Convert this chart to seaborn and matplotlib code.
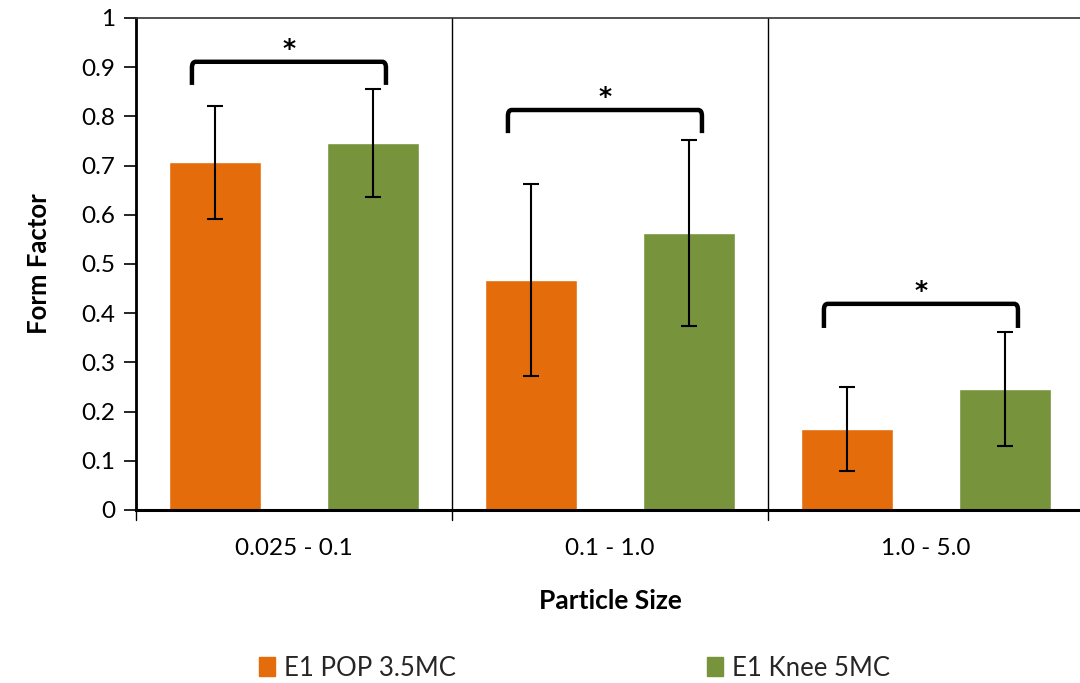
import matplotlib
matplotlib.use("Agg")
import matplotlib.pyplot as plt
from matplotlib.path import Path
from matplotlib.patches import PathPatch
import seaborn as sns
import pandas as pd

# Form factor by particle size range
categories = ["0.025 - 0.1", "0.1 - 1.0", "1.0 - 5.0"]
series_names = ["E1 POP 3.5MC", "E1 Knee 5MC"]
pop_values = [0.707, 0.467, 0.165]
knee_values = [0.746, 0.563, 0.246]
pop_errors = [0.115, 0.195, 0.086]
knee_errors = [0.109, 0.190, 0.116]
y_ticks = [0, 0.1, 0.2, 0.3, 0.4, 0.5, 0.6, 0.7, 0.8, 0.9, 1]
y_tick_labels = ["0", "0.1", "0.2", "0.3", "0.4", "0.5", "0.6", "0.7", "0.8", "0.9", "1"]
# significance brackets: (top of bracket, bottom of legs)
bracket_levels = [(0.911, 0.864), (0.813, 0.766), (0.419, 0.370)]
bracket_marks = ["*", "*", "*"]

colors = ["#E46C0A", "#77933C"]

df = pd.DataFrame({
    "size": categories * 2,
    "series": [series_names[0]] * 3 + [series_names[1]] * 3,
    "value": pop_values + knee_values,
})

sns.set_theme(style="white")
plt.rcParams["font.family"] = ["Lato", "DejaVu Sans"]

fig = plt.figure(figsize=(10.8, 6.83), dpi=100)
ax = fig.add_axes([136 / 1080, 1 - 510 / 683, 948 / 1080, 492 / 683])

sns.barplot(data=df, x="size", y="value", hue="series", hue_order=series_names,
            order=categories, palette=colors, width=1.0, gap=0.42,
            errorbar=None, saturation=1, ax=ax, legend=True)

# error bars at the centres of the drawn bars
bars = [p for p in ax.patches if p.get_height() > 0 and p.get_width() < 0.5]
pairs = sorted(((p.get_x() + p.get_width() / 2, p.get_height()) for p in bars),
               key=lambda t: t[0])
errs_ordered = []
for i in range(len(categories)):
    errs_ordered += [pop_errors[i], knee_errors[i]]
ax.errorbar([c for c, _ in pairs], [h for _, h in pairs], yerr=errs_ordered,
            fmt="none", ecolor="black", elinewidth=1.5, capsize=6, capthick=1.5,
            zorder=4)

# significance brackets with rounded corners
for i, ((top, low), mark) in enumerate(zip(bracket_levels, bracket_marks)):
    x0 = pairs[2 * i][0] - 0.073
    x1 = pairs[2 * i + 1][0] + 0.041
    r_x, r_y = 0.012, 0.012
    verts = [(x0, low), (x0, top - r_y), (x0, top), (x0 + r_x, top),
             (x1 - r_x, top), (x1, top), (x1, top - r_y), (x1, low)]
    codes = [Path.MOVETO, Path.LINETO, Path.CURVE3, Path.CURVE3,
             Path.LINETO, Path.CURVE3, Path.CURVE3, Path.LINETO]
    ax.add_patch(PathPatch(Path(verts, codes), fill=False, lw=3.2,
                           edgecolor="black", capstyle="butt", zorder=5))
    ax.text((x0 + x1) / 2, top + 0.002, mark, ha="center", va="bottom",
            fontsize=18, fontweight="bold", color="black",
            family="DejaVu Sans")

# axes styling
ax.set_xlim(-0.5, 2.5)
ax.set_ylim(0, 1)
ax.set_yticks(y_ticks)
ax.set_yticklabels(y_tick_labels)
ax.set_xticks([0, 1, 2])
ax.set_xticklabels(categories)
ax.tick_params(axis="x", length=0, labelsize=17.5, pad=20, colors="black")
ax.tick_params(axis="y", left=True, length=9, width=1.2, direction="out",
               labelsize=17.5, pad=6, colors="black")

# group separators extending below the axis
for xs in [-0.5, 0.5, 1.5, 2.5]:
    ax.plot([xs, xs], [-0.02, 1], color="black", lw=1.0, clip_on=False, zorder=1)

for side in ["left", "bottom", "top"]:
    ax.spines[side].set_visible(True)
    ax.spines[side].set_color("black")
ax.spines["left"].set_linewidth(2.0)
ax.spines["bottom"].set_linewidth(2.2)
ax.spines["top"].set_linewidth(1.2)
ax.spines["top"].set_color("#333333")
ax.spines["right"].set_visible(False)
ax.spines["bottom"].set_zorder(6)

ax.set_xlabel("Particle Size", fontsize=19, fontweight="bold", labelpad=22,
              color="black")
ax.set_ylabel("Form Factor", fontsize=18.5, fontweight="bold", labelpad=22,
              color="black")

ax.legend_.remove()
handles = [plt.Rectangle((0, 0), 1, 1, color=c) for c in colors]
leg = fig.legend(handles, series_names, loc="center", ncol=2,
                 bbox_to_anchor=(0.532, 1 - 668 / 683), frameon=False,
                 fontsize=18.5, handlelength=0.6, handleheight=0.75,
                 handletextpad=0.35, columnspacing=9.8)

fig.savefig("out.png", dpi=100)
